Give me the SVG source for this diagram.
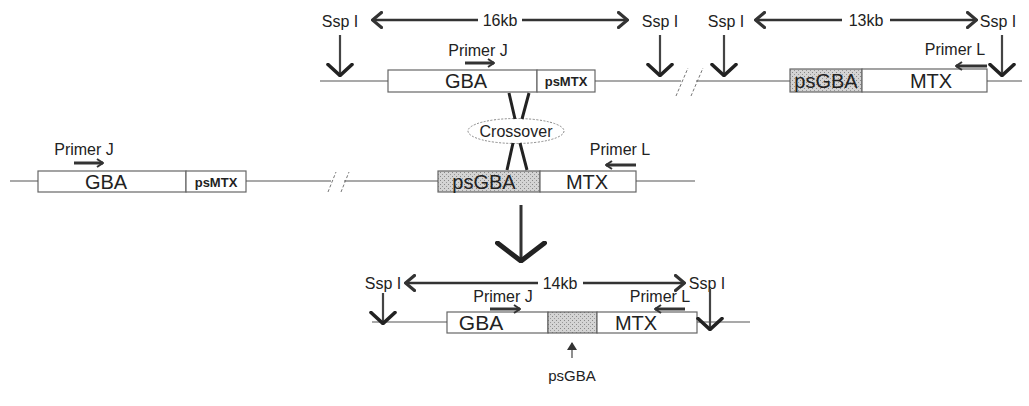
<svg xmlns="http://www.w3.org/2000/svg" width="1029" height="406" viewBox="0 0 1029 406">
<style>
text{font-family:"Liberation Sans",Arial,sans-serif;fill:#222;}
.lbl{font-size:16px;text-anchor:middle;}
.box{font-size:20px;text-anchor:middle;}
.bold{font-size:13px;font-weight:bold;text-anchor:middle;}
.dna{stroke:#555;stroke-width:1.2;fill:none;}
.frame{stroke:#666;stroke-width:1.2;fill:#fff;}
.shade{stroke:#666;stroke-width:1.2;fill:url(#dots);}
.dbl{stroke:#333;stroke-width:2.5;fill:none;marker-end:url(#chev);}
.down{stroke:#444;stroke-width:2.2;fill:none;marker-end:url(#dchev);}
.primer{stroke:#333;stroke-width:3;fill:none;marker-end:url(#pchev);}
.brk{stroke:#777;stroke-width:1;stroke-dasharray:3,2;fill:none;}
.cross{stroke:#222;stroke-width:3;fill:none;}
</style>
<defs>
<pattern id="dots" width="4" height="4" patternUnits="userSpaceOnUse">
<rect width="4" height="4" fill="#d4d4d4"/>
<rect x="0" y="0" width="1" height="1" fill="#888"/>
<rect x="2" y="2" width="1" height="1" fill="#999"/>
</pattern>
<marker id="chev" viewBox="0 0 12 18" refX="11" refY="9" markerWidth="12" markerHeight="18" markerUnits="userSpaceOnUse" orient="auto">
<path d="M1.5,1.5 L10.5,9 L1.5,16.5" fill="none" stroke="#333" stroke-width="3.2" stroke-linecap="round"/>
</marker>
<marker id="dchev" viewBox="0 0 14 28" refX="13" refY="14" markerWidth="14" markerHeight="28" markerUnits="userSpaceOnUse" orient="auto">
<path d="M1.5,2 L12.5,14 L1.5,26" fill="none" stroke="#222" stroke-width="3.6" stroke-linecap="round"/>
</marker>
<marker id="bchev" viewBox="0 0 22 52" refX="21" refY="26" markerWidth="22" markerHeight="52" markerUnits="userSpaceOnUse" orient="auto">
<path d="M2,2.5 L20,26 L2,49.5" fill="none" stroke="#222" stroke-width="5" stroke-linecap="round"/>
</marker>
<marker id="pchev" viewBox="0 0 8 10" refX="7" refY="5" markerWidth="8" markerHeight="10" markerUnits="userSpaceOnUse" orient="auto">
<path d="M1,1 L7,5 L1,9" fill="none" stroke="#333" stroke-width="2"/>
</marker>
<marker id="uchev" viewBox="0 0 8 10" refX="7" refY="5" markerWidth="8" markerHeight="10" markerUnits="userSpaceOnUse" orient="auto">
<path d="M0,0 L8,5 L0,10 Z" fill="#333"/>
</marker>
</defs>

<g id="labels-top">
<text class="lbl" x="340" y="27">Ssp I</text>
<text class="lbl" x="500" y="26">16kb</text>
<text class="lbl" x="660" y="27">Ssp I</text>
<text class="lbl" x="726" y="27">Ssp I</text>
<text class="lbl" x="866" y="26">13kb</text>
<text class="lbl" x="998" y="27">Ssp I</text>
<text class="lbl" x="478" y="56">Primer J</text>
<text class="lbl" x="955" y="55">Primer L</text>
</g>

<g id="node-top-gba">
<rect class="frame" x="388" y="70" width="149" height="22"/>
<text class="box" x="466" y="88">GBA</text>
</g>
<g id="node-top-psmtx">
<rect class="frame" x="537" y="70" width="58" height="22"/>
<text class="bold" x="566" y="86">psMTX</text>
</g>
<g id="node-top-psgba">
<rect class="shade" x="790" y="69" width="72" height="23"/>
<text class="box" x="826" y="88">psGBA</text>
</g>
<g id="node-top-mtx">
<rect class="frame" x="862" y="69" width="125" height="23"/>
<text class="box" x="931" y="88">MTX</text>
</g>

<g id="node-crossover">
<ellipse cx="516" cy="131" rx="48" ry="12.5" fill="#fff" stroke="#888" stroke-width="1" stroke-dasharray="2,1.5"/>
<text x="516" y="137" style="font-size:16px;text-anchor:middle">Crossover</text>
</g>

<g id="labels-middle">
<text class="lbl" x="84" y="155">Primer J</text>
<text class="lbl" x="620" y="155">Primer L</text>
</g>
<g id="node-mid-gba">
<rect class="frame" x="38" y="171" width="148" height="21"/>
<text class="box" x="106" y="189">GBA</text>
</g>
<g id="node-mid-psmtx">
<rect class="frame" x="186" y="171" width="60" height="21"/>
<text class="bold" x="216" y="187">psMTX</text>
</g>
<g id="node-mid-psgba">
<rect class="shade" x="438" y="171" width="102" height="21"/>
<text class="box" x="484" y="189">psGBA</text>
</g>
<g id="node-mid-mtx">
<rect class="frame" x="540" y="171" width="96" height="21"/>
<text class="box" x="587" y="189">MTX</text>
</g>

<g id="labels-bottom">
<text class="lbl" x="383" y="289">Ssp I</text>
<text class="lbl" x="560" y="289">14kb</text>
<text class="lbl" x="707" y="289">Ssp I</text>
<text class="lbl" x="503" y="302">Primer J</text>
<text class="lbl" x="660" y="302">Primer L</text>
<text class="lbl" x="572" y="381" style="font-size:15px">psGBA</text>
</g>
<g id="node-bot-gba">
<rect class="frame" x="447" y="312" width="101" height="21"/>
<text class="box" x="481" y="330" style="font-size:21px">GBA</text>
</g>
<g id="node-bot-psgba">
<rect class="shade" x="548" y="312" width="49" height="21"/>
</g>
<g id="node-bot-mtx">
<rect class="frame" x="597" y="312" width="100" height="21"/>
<text class="box" x="636" y="330">MTX</text>
</g>

<g id="connectors">
<path class="dna" d="M320,81 H388 M595,81 H681 M696,81 H790 M987,81 H1022"/>
<path class="brk" d="M676,96 L688,68 M691,96 L703,68"/>
<path class="dna" d="M10,181 H38 M246,181 H331 M344,181 H438 M636,181 H695"/>
<path class="brk" d="M328,192 L336,172 M341,192 L349,172"/>
<path class="dna" d="M372,322 H447 M697,322 H750"/>
<path class="dbl" d="M478,20 H372"/>
<path class="dbl" d="M522,20 H628"/>
<path class="dbl" d="M842,20 H755"/>
<path class="dbl" d="M890,20 H977"/>
<path class="dbl" d="M538,283 H405"/>
<path class="dbl" d="M583,283 H685"/>
<path class="down" d="M340,35 V76"/>
<path class="down" d="M660,35 V76"/>
<path class="down" d="M724,35 V76"/>
<path class="down" d="M1002,35 V76"/>
<path class="down" d="M383,293 V324"/>
<path class="down" d="M710,289 V330"/>
<path class="primer" d="M465,63 H494"/>
<path class="primer" d="M987,66 H956"/>
<path class="primer" d="M74,163 H103"/>
<path class="primer" d="M636,165 H606"/>
<path class="primer" d="M490,309 H520"/>
<path class="primer" d="M685,309 H655"/>
<path class="cross" d="M509,93 L515,119 M529,93 L522,119 M513,143 L507,170 M520,143 L527,170"/>
<path d="M521,205 V262" stroke="#333" stroke-width="3" fill="none" marker-end="url(#bchev)"/>
<path d="M572,358 V343" stroke="#444" stroke-width="1.2" fill="none" marker-end="url(#uchev)"/>
</g>
</svg>
